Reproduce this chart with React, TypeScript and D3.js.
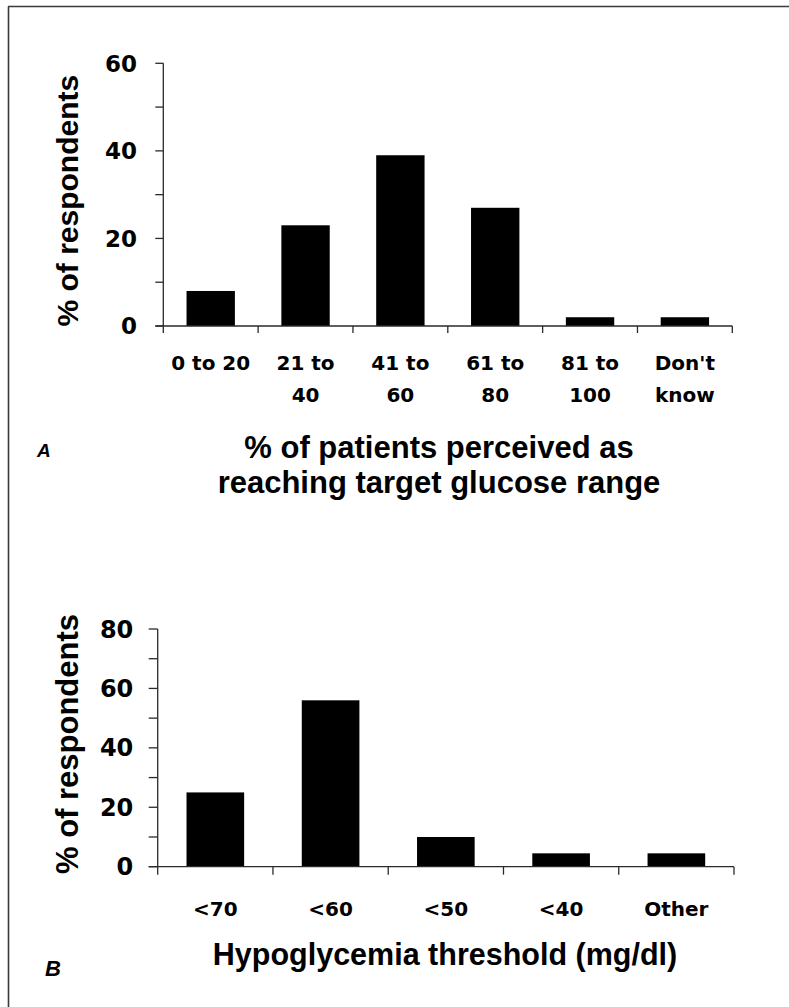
import React from "react";
import * as d3 from "d3";

// ---- Panel A data ----
const catsA: string[] = ["0 to 20", "21 to 40", "41 to 60", "61 to 80", "81 to 100", "Don't know"];
const catLinesA: string[][] = [["0 to 20"], ["21 to", "40"], ["41 to", "60"], ["61 to", "80"], ["81 to", "100"], ["Don't", "know"]];
const valuesA: number[] = [8, 23, 39, 27, 2, 2];
const yTicksA: number[] = [0, 20, 40, 60];
const yMinorA: number[] = [0, 10, 20, 30, 40, 50, 60];
const titleA: string[] = ["% of patients perceived as", "reaching target glucose range"];

// ---- Panel B data ----
const catsB: string[] = ["<70", "<60", "<50", "<40", "Other"];
const valuesB: number[] = [25, 56, 10, 4.5, 4.5];
const yTicksB: number[] = [0, 20, 40, 60, 80];
const yMinorB: number[] = [0, 10, 20, 30, 40, 50, 60, 70, 80];
const titleB = "Hypoglycemia threshold (mg/dl)";
const yTitle = "% of respondents";

const W = 789;
const H = 1007;
const AX = "#2a2a2a";
const NUM_FONT = "'DejaVu Sans', sans-serif";
const TXT_FONT = "'Liberation Sans', Arial, sans-serif";

export default function App() {
  // Panel A scales
  const yA = d3.scaleLinear().domain([0, 60]).range([326, 63.3]);
  const xA = d3.scaleBand<string>().domain(catsA).range([163.3, 732.3]).paddingInner(0.49).paddingOuter(0.245);
  const stepA = xA.step();
  const edgesA = d3.range(catsA.length + 1).map((i) => xA.range()[0] + i * stepA);

  // Panel B scales
  const yB = d3.scaleLinear().domain([0, 80]).range([866.7, 629]);
  const xB = d3.scaleBand<string>().domain(catsB).range([157.7, 734]).paddingInner(0.5).paddingOuter(0.25);
  const stepB = xB.step();
  const edgesB = d3.range(catsB.length + 1).map((i) => xB.range()[0] + i * stepB);

  const ax0A = xA.range()[0];
  const ax1A = xA.range()[1];
  const ax0B = xB.range()[0];
  const ax1B = xB.range()[1];

  return (
    <svg width={W} height={H} style={{ position: "absolute", left: 0, top: 0, background: "#fff" }}>
      <rect x={0} y={0} width={W} height={H} fill="#fff" />
      {/* frame */}
      <line x1={8.5} y1={6.5} x2={8.5} y2={H} stroke="#3a3a3a" strokeWidth={1.6} />
      <line x1={8} y1={6.5} x2={W} y2={6.5} stroke="#3a3a3a" strokeWidth={1.6} />

      {/* ===== Panel A ===== */}
      <g>
        {catsA.map((c, i) => (
          <rect key={c} x={xA(c)} y={yA(valuesA[i])} width={xA.bandwidth()} height={yA(0) - yA(valuesA[i])} fill="#000" />
        ))}
        {/* y axis */}
        <line x1={ax0A} y1={yA(60)} x2={ax0A} y2={yA(0)} stroke={AX} strokeWidth={1.3} />
        {yMinorA.map((t) => (
          <line key={t} x1={ax0A - 8} x2={ax0A} y1={yA(t)} y2={yA(t)} stroke={AX} strokeWidth={1.3} />
        ))}
        {yTicksA.map((t) => (
          <text key={t} x={137} y={yA(t)} dy="0.36em" textAnchor="end" fontFamily={NUM_FONT} fontWeight="bold" fontSize={23} fill="#000">
            {t}
          </text>
        ))}
        {/* x axis */}
        <line x1={ax0A - 8} y1={yA(0)} x2={ax1A} y2={yA(0)} stroke={AX} strokeWidth={1.3} />
        {edgesA.map((e, i) => (
          <line key={i} x1={e} x2={e} y1={yA(0)} y2={yA(0) + 7} stroke={AX} strokeWidth={1.3} />
        ))}
        {catsA.map((c, i) =>
          catLinesA[i].map((ln, j) => (
            <text key={c + j} x={(xA(c) as number) + xA.bandwidth() / 2} y={370 + j * 31.5} textAnchor="middle" fontFamily={NUM_FONT} fontWeight="bold" fontSize={20} fill="#000">
              {ln}
            </text>
          ))
        )}
        {/* y title */}
        <text transform={`translate(78,${(yA(0) + yA(60)) / 2 + 6}) rotate(-90)`} textAnchor="middle" fontFamily={TXT_FONT} fontWeight="bold" fontSize={30} fill="#000">
          {yTitle}
        </text>
        {/* x title */}
        {titleA.map((ln, j) => (
          <text key={j} x={439} y={457.5 + j * 35} textAnchor="middle" fontFamily={TXT_FONT} fontWeight="bold" fontSize={31} fill="#000">
            {ln}
          </text>
        ))}
        <text x={37} y={456.5} fontFamily={TXT_FONT} fontWeight="bold" fontStyle="italic" fontSize={19} fill="#000">
          A
        </text>
      </g>

      {/* ===== Panel B ===== */}
      <g>
        {catsB.map((c, i) => (
          <rect key={c} x={xB(c)} y={yB(valuesB[i])} width={xB.bandwidth()} height={yB(0) - yB(valuesB[i])} fill="#000" />
        ))}
        <line x1={ax0B} y1={yB(80)} x2={ax0B} y2={yB(0)} stroke={AX} strokeWidth={1.3} />
        {yMinorB.map((t) => (
          <line key={t} x1={ax0B - 9} x2={ax0B} y1={yB(t)} y2={yB(t)} stroke={AX} strokeWidth={1.3} />
        ))}
        {yTicksB.map((t) => (
          <text key={t} x={133.3} y={yB(t)} dy="0.36em" textAnchor="end" fontFamily={NUM_FONT} fontWeight="bold" fontSize={24} fill="#000">
            {t}
          </text>
        ))}
        <line x1={ax0B - 9} y1={yB(0)} x2={ax1B} y2={yB(0)} stroke={AX} strokeWidth={1.3} />
        {edgesB.map((e, i) => (
          <line key={i} x1={e} x2={e} y1={yB(0)} y2={yB(0) + 8} stroke={AX} strokeWidth={1.3} />
        ))}
        {catsB.map((c) => (
          <text key={c} x={(xB(c) as number) + xB.bandwidth() / 2} y={916} textAnchor="middle" fontFamily={NUM_FONT} fontWeight="bold" fontSize={20} fill="#000">
            {c}
          </text>
        ))}
        <text transform={`translate(78,${744 + 0}) rotate(-90)`} textAnchor="middle" fontFamily={TXT_FONT} fontWeight="bold" fontSize={31} fill="#000">
          {yTitle}
        </text>
        <text x={445} y={965} textAnchor="middle" fontFamily={TXT_FONT} fontWeight="bold" fontSize={30.5} fill="#000">
          {titleB}
        </text>
        <text x={45} y={976} fontFamily={TXT_FONT} fontWeight="bold" fontStyle="italic" fontSize={22} fill="#000">
          B
        </text>
      </g>
    </svg>
  );
}
